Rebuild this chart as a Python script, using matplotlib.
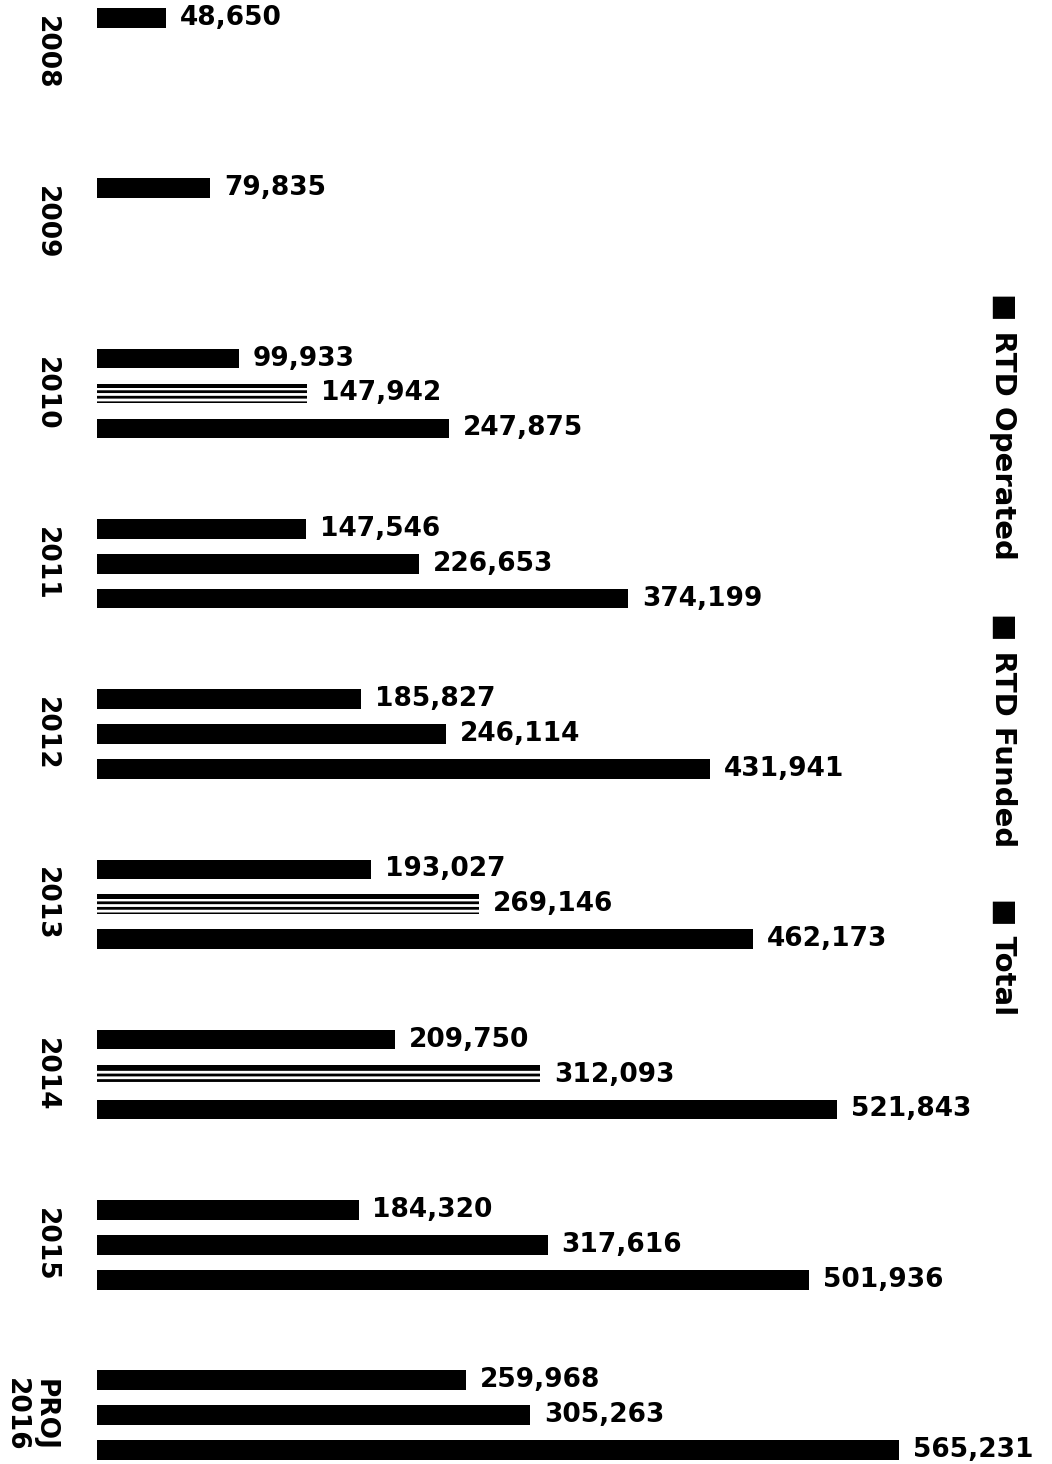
import numpy as np
import matplotlib
matplotlib.use("Agg")
import matplotlib.pyplot as plt
from matplotlib import transforms

# ---- data ----
years = ["2008", "2009", "2010", "2011", "2012", "2013", "2014", "2015", "PROJ\n2016"]
rtd_operated = [48650, 79835, 99933, 147546, 185827, 193027, 209750, 184320, 259968]
rtd_funded = [np.nan, np.nan, 147942, 226653, 246114, 269146, 312093, 317616, 305263]
total = [np.nan, np.nan, 247875, 374199, 431941, 462173, 521843, 501936, 565231]
series_names = ["RTD Operated", "RTD Funded", "Total"]
hatched_funded_years = ["2010", "2013", "2014"]

plt.rcParams["font.family"] = ["DejaVu Sans"]
plt.rcParams["hatch.linewidth"] = 2.0

W, H = 1052, 1464
fig = plt.figure(figsize=(W / 100, H / 100), dpi=100)
x0_px, x1_px = 97, 960
ax = fig.add_axes([x0_px / W, 0, (x1_px - x0_px) / W, 1])
ax.set_xlim(0, (x1_px - x0_px) / 1.419e-3)

bar_step = 0.205
bar_h = 0.115
px_per_unit = (1450 - 18) / (8 + 2 * bar_step)
ax.set_ylim(8 + 2 * bar_step + 14 / px_per_unit, -18 / px_per_unit)
ax.axis("off")

groups = np.arange(len(years))
for j, vals in enumerate([rtd_operated, rtd_funded, total]):
    ys = groups + j * bar_step
    for i, (y, v) in enumerate(zip(ys, vals)):
        if np.isnan(v):
            continue
        if j == 1 and years[i] in hatched_funded_years:
            ax.barh(y, v, height=bar_h, color="white", edgecolor="black",
                    hatch="---", linewidth=0)
            ax.barh(y - bar_h * 0.38, v, height=bar_h * 0.24, color="black", linewidth=0)
        else:
            ax.barh(y, v, height=bar_h, color="black", linewidth=0)
        ax.annotate(f"{int(v):,}", xy=(v, y), xytext=(10, 0), textcoords="offset points",
                    va="center", ha="left", fontsize=19, fontweight="bold")

# year labels
tr = transforms.blended_transform_factory(fig.transFigure, ax.transData)
for i, lab in enumerate(years):
    xpos = 46 / W if "\n" not in lab else 30 / W
    ax.text(xpos, i + bar_step, lab, transform=tr, rotation=-90, ha="center", va="center",
            fontsize=19, fontweight="bold", linespacing=1.15)

# legend (rotated)
legend_tops = [293, 613, 898]
for name, top in zip(series_names, legend_tops):
    fig.text(1003 / W, 1 - top / H, "\u25A0 " + name, rotation=-90, ha="center", va="top",
             fontsize=21, fontweight="bold")

fig.savefig("out.png", dpi=100, facecolor="white")
